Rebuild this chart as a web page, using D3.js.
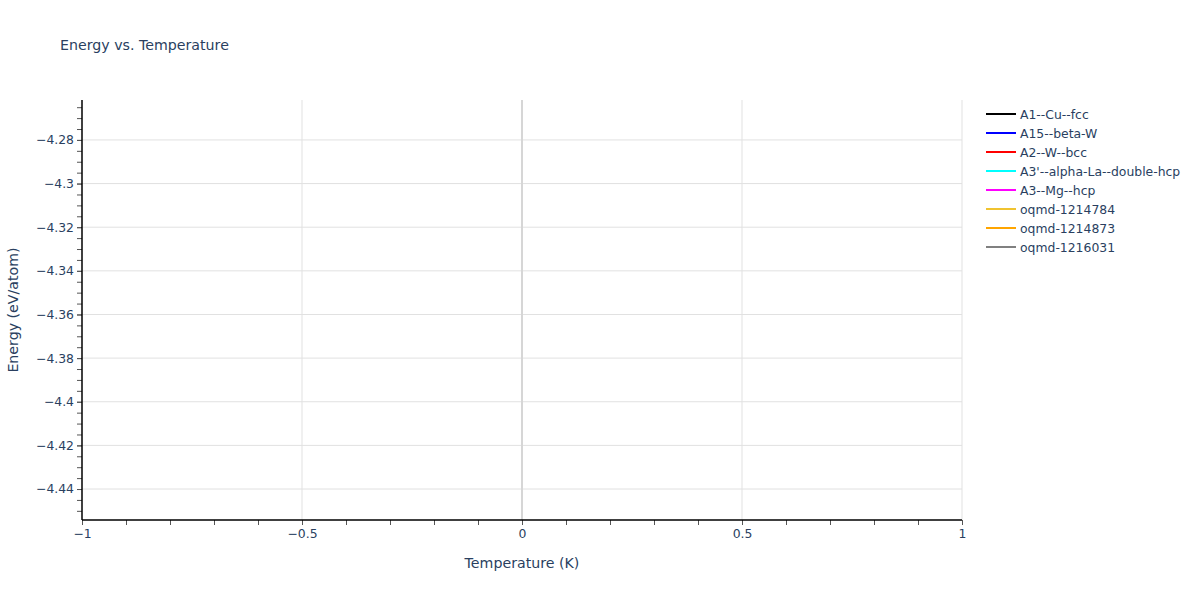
<!DOCTYPE html>
<html>
<head>
<meta charset="utf-8">
<script src="https://cdn.jsdelivr.net/npm/d3@7"></script>
<style>
	body { margin: 0; background: #fff; }
	text { font-family: "DejaVu Sans", verdana, arial, sans-serif; fill: #2a3f5f; }
</style>
</head>
<body>
<div id="chart"></div>
<script>
// series shown in the legend (no visible points in the plot area)
const seriesNames = [
	"A1--Cu--fcc",
	"A15--beta-W",
	"A2--W--bcc",
	"A3'--alpha-La--double-hcp",
	"A3--Mg--hcp",
	"oqmd-1214784",
	"oqmd-1214873",
	"oqmd-1216031",
];
const seriesColors = ["#000000", "#0000ff", "#ff0000", "#00ffff", "#ff00ff", "#f0c330", "#ffa500", "#808080"];
// temperature / energy values per series: nothing is drawn in the reference
const seriesTemps = [[], [], [], [], [], [], [], []];
const seriesEnergies = [[], [], [], [], [], [], [], []];

const xDomain = [-1, 1];
const yDomain = [-4.4542, -4.2617];
const xTicks = [-1, -0.5, 0, 0.5, 1];
const yTicks = [-4.44, -4.42, -4.4, -4.38, -4.36, -4.34, -4.32, -4.3, -4.28];

const width = 1200;
const height = 600;
const margin = { top: 100, right: 238, bottom: 80, left: 82 };
const innerW = width - margin.left - margin.right;
const innerH = height - margin.top - margin.bottom;

const svg = d3
	.select("#chart")
	.append("svg")
	.attr("width", width)
	.attr("height", height);

const x = d3.scaleLinear().domain(xDomain).range([0, innerW]);
const y = d3.scaleLinear().domain(yDomain).range([innerH, 0]);

const fmt = (v) => (v < 0 ? "\u2212" + d3.format("")(-v) : d3.format("")(v));

const plot = svg.append("g").attr("transform", `translate(${margin.left},${margin.top})`);

// grid
plot.append("g")
	.selectAll("line")
	.data(yTicks)
	.enter()
	.append("line")
	.attr("x1", 0)
	.attr("x2", innerW)
	.attr("y1", (d) => y(d))
	.attr("y2", (d) => y(d))
	.attr("stroke", "#e1e1e1")
	.attr("stroke-width", 1);

plot.append("g")
	.selectAll("line")
	.data(xTicks.filter((d) => d !== 0 && d !== xDomain[0]))
	.enter()
	.append("line")
	.attr("x1", (d) => x(d))
	.attr("x2", (d) => x(d))
	.attr("y1", 0)
	.attr("y2", innerH)
	.attr("stroke", "#e1e1e1")
	.attr("stroke-width", 1);

// zero line
plot.append("line")
	.attr("x1", x(0))
	.attr("x2", x(0))
	.attr("y1", 0)
	.attr("y2", innerH)
	.attr("stroke", "#d6d6d6")
	.attr("stroke-width", 2);

// series lines
const line = d3
	.line()
	.x((d) => x(d[0]))
	.y((d) => y(d[1]));

plot.append("g")
	.selectAll("path")
	.data(seriesNames.map((name, i) => ({
		name,
		color: seriesColors[i],
		pts: seriesTemps[i].map((t, j) => [t, seriesEnergies[i][j]]),
	})))
	.enter()
	.append("path")
	.attr("fill", "none")
	.attr("stroke", (d) => d.color)
	.attr("stroke-width", 2)
	.attr("d", (d) => (d.pts.length ? line(d.pts) : null));

// x axis
const xAxis = plot.append("g").attr("transform", `translate(0,${innerH})`);
xAxis.append("g")
	.call(d3.axisBottom(x).ticks(20).tickSize(5).tickFormat(""))
	.call((g) => g.select(".domain").remove())
	.call((g) => g.selectAll("line").attr("stroke", "#555"));
xAxis.append("g")
	.call(d3.axisBottom(x).tickValues(xTicks).tickSize(5).tickPadding(4).tickFormat(fmt))
	.call((g) => g.select(".domain").remove())
	.call((g) => g.selectAll("line").attr("stroke", "#555"))
	.call((g) => g.selectAll("text").attr("font-size", 12.4).attr("fill", "#2a3f5f").attr("font-family", null));
xAxis.append("line")
	.attr("x1", 0)
	.attr("x2", innerW)
	.attr("stroke", "#000")
	.attr("stroke-width", 1.5);

// y axis
const yAxis = plot.append("g");
yAxis.append("g")
	.call(d3.axisLeft(y).ticks(40).tickSize(5).tickFormat(""))
	.call((g) => g.select(".domain").remove())
	.call((g) => g.selectAll("line").attr("stroke", "#555"));
yAxis.append("g")
	.call(d3.axisLeft(y).tickValues(yTicks).tickSize(5).tickPadding(3).tickFormat(fmt))
	.call((g) => g.select(".domain").remove())
	.call((g) => g.selectAll("line").attr("stroke", "#555"))
	.call((g) => g.selectAll("text").attr("font-size", 12.4).attr("fill", "#2a3f5f").attr("font-family", null));
yAxis.append("line")
	.attr("y1", 0)
	.attr("y2", innerH)
	.attr("stroke", "#000")
	.attr("stroke-width", 1.5);

// titles
svg.append("text")
	.attr("x", 60)
	.attr("y", 50)
	.attr("font-size", 14.2)
	.text("Energy vs. Temperature");

svg.append("text")
	.attr("x", margin.left + innerW / 2)
	.attr("y", 568)
	.attr("text-anchor", "middle")
	.attr("font-size", 14.2)
	.text("Temperature (K)");

svg.append("text")
	.attr("transform", `translate(18,${margin.top + innerH / 2}) rotate(-90)`)
	.attr("text-anchor", "middle")
	.attr("font-size", 14.2)
	.text("Energy (eV/atom)");

// legend
const legend = svg
	.append("g")
	.selectAll("g")
	.data(seriesNames)
	.enter()
	.append("g")
	.attr("transform", (d, i) => `translate(986,${114 + i * 19})`);

legend.append("line")
	.attr("x1", 0)
	.attr("x2", 30)
	.attr("stroke", (d, i) => seriesColors[i])
	.attr("stroke-width", 2);

legend.append("text")
	.attr("x", 34)
	.attr("y", 4.5)
	.attr("font-size", 12.4)
	.text((d) => d);
</script>
</body>
</html>
